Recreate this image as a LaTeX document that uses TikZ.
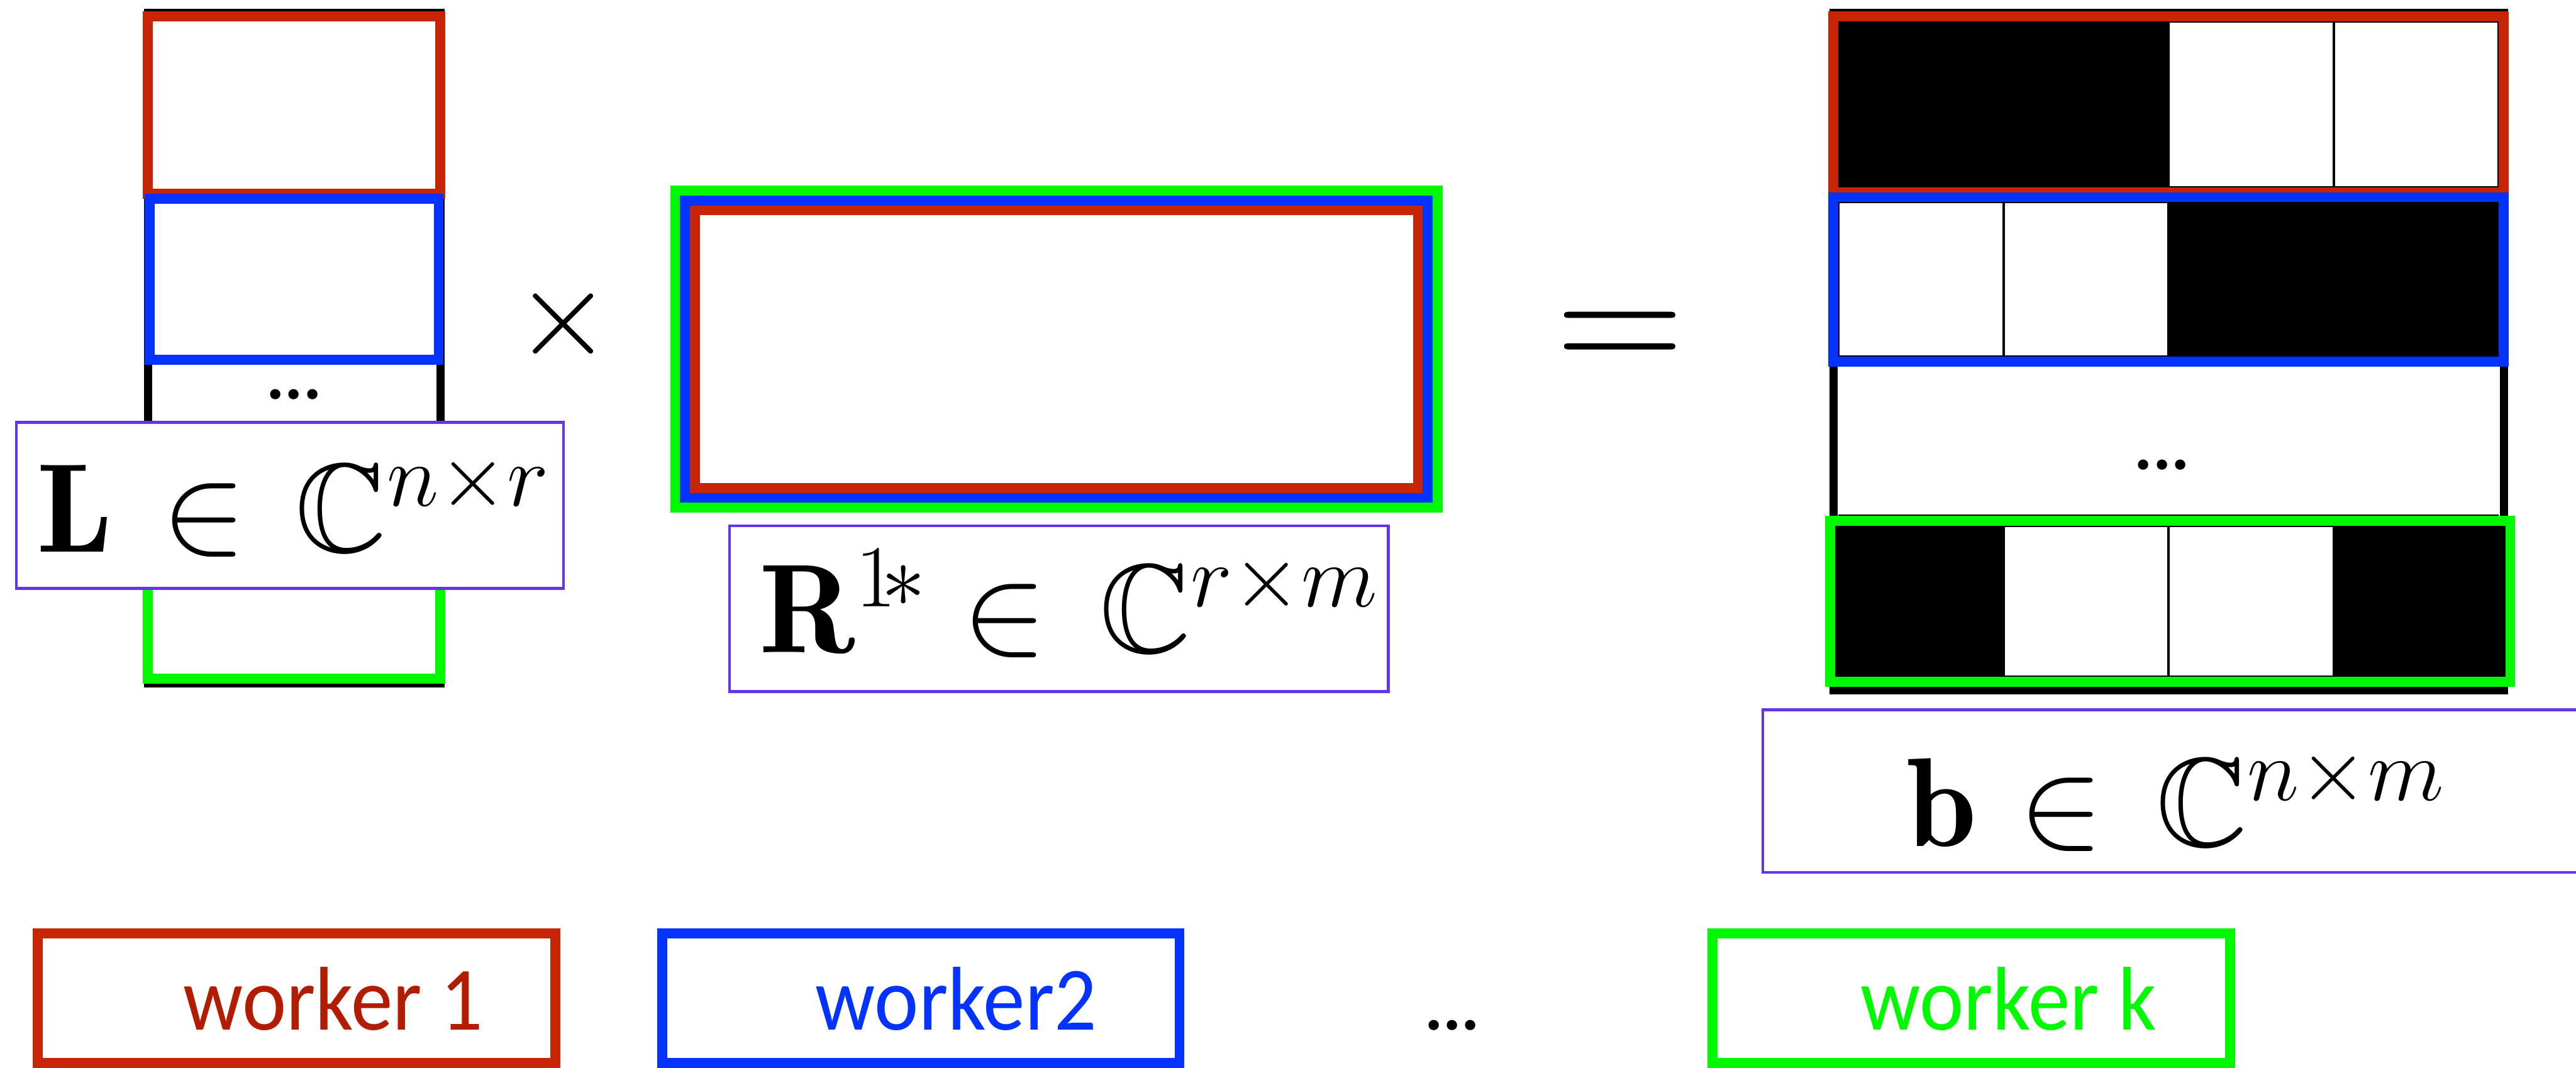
\RequirePackage{fix-cm}
\documentclass[tikz,border=0pt]{standalone}
\usepackage{amssymb}
\usepackage{fontspec}
\newfontfamily\carl{Carlito}
\definecolor{wred}{HTML}{C82506}
\definecolor{wredtext}{HTML}{B21C02}
\definecolor{wblue}{HTML}{0433FF}
\definecolor{wgreen}{HTML}{00F900}
\definecolor{lpurple}{HTML}{6236E8}
\newcommand{\wtext}[1]{\scalebox{1}[1.08]{#1}}
\tikzset{
 thickbox/.style={line width=3pt},
 blackframe/.style={line width=2.5pt, draw=black},
 thingrid/.style={line width=0.8pt, draw=black},
 labbox/.style={draw=lpurple, line width=0.9pt, fill=white},
 mathlab/.style={inner sep=0pt, font=\fontsize{38.5}{44}\selectfont},
 worker/.style={inner sep=0pt, font=\carl\fontsize{25.5}{30}\selectfont},
 dotstxt/.style={inner sep=0pt, font=\carl\bfseries\fontsize{21}{24}\selectfont},
}
\begin{document}
\begin{tikzpicture}[x=0.5pt,y=-0.5pt]
\useasboundingbox (0,0) rectangle (1568,650);
% ---------- L column ----------
\draw[blackframe] (90,8) rectangle (268,416);
\draw[thickbox, wred] (90,10) rectangle (268,118);
\draw[thickbox, wblue] (91,121) rectangle (267,219);
\draw[thickbox, wgreen] (90,280) rectangle (268,413);
\node[dotstxt] (Ldots) at (179,240) {...};
\draw[labbox] (10,257) rectangle (343,358);
\node[mathlab, anchor=base west] (Llab) at (22,336) {$\mathbf{L}\mkern2mu\in\mkern2mu\mathbb{C}^{n\times r}$};
% ---------- times ----------
\node[inner sep=0pt, font=\fontsize{38}{44}\selectfont] (times) at (343,197) {$\times$};
% ---------- R rectangle ----------
\draw[thickbox, wgreen] (411,116) rectangle (875,309);
\draw[thickbox, wblue] (417,122) rectangle (869,303);
\draw[thickbox, wred] (423,128) rectangle (863,297);
\draw[labbox] (444,320) rectangle (845,421);
\node[mathlab, anchor=base west] (Rlab) at (462,397) {$\mathbf{R}^{1\!*}\in\mkern2.5mu\mathbb{C}^{r\times m}$};
% ---------- equals ----------
\node[inner sep=0pt, font=\fontsize{54}{60}\selectfont] (eq) at (986,209) {$=$};
% ---------- b matrix ----------
\draw[blackframe] (1116,8) rectangle (1524,420);
% red row
\fill[black] (1119,13) rectangle (1320,114);
\draw[thingrid] (1320,13) rectangle (1420.5,114);
\draw[thingrid] (1420.5,13) rectangle (1521,114);
% blue row
\draw[thingrid] (1119,123) rectangle (1219.5,217);
\draw[thingrid] (1219.5,123) rectangle (1320,217);
\fill[black] (1320,123) rectangle (1521,217);
% dots row
\draw[thingrid] (1119,314) -- (1521,314);
\node[dotstxt] (bdots) at (1316,283) {...};
% green row
\fill[black] (1117,320) rectangle (1219.5,412);
\fill[black] (1420.5,320) rectangle (1525,412);
\draw[thingrid] (1219.5,320) rectangle (1320,412);
\draw[thingrid] (1320,320) rectangle (1420.5,412);
% coloured row outlines
\draw[thickbox, wred] (1116,10) rectangle (1524,117);
\draw[thickbox, wblue] (1116,120) rectangle (1524,220);
\draw[thickbox, wgreen] (1114,317) rectangle (1528,415);
% label
\draw[draw=lpurple, line width=0.9pt] (1568,432) -- (1073,432) -- (1073,531) -- (1568,531);
\node[mathlab, anchor=base west] (blab) at (1160,515) {$\mathbf{b}\mkern1mu\in\mkern2.5mu\mathbb{C}^{n\times m}$};
% ---------- workers ----------
\draw[thickbox, wred] (23,568) rectangle (338,647);
\node[worker, text=wredtext, anchor=base west] (w1) at (111,627) {\wtext{worker 1}};
\draw[thickbox, wblue] (403,568) rectangle (718,647);
\node[worker, text=wblue, anchor=base west] (w2) at (496,627) {\wtext{worker2}};
\node[dotstxt, anchor=base] (wdots) at (884,627) {...};
\draw[thickbox, wgreen] (1042.5,568) rectangle (1357.5,647);
\node[worker, text=wgreen, anchor=base west] (wk) at (1132,627) {\wtext{worker k}};
\end{tikzpicture}
\end{document}
